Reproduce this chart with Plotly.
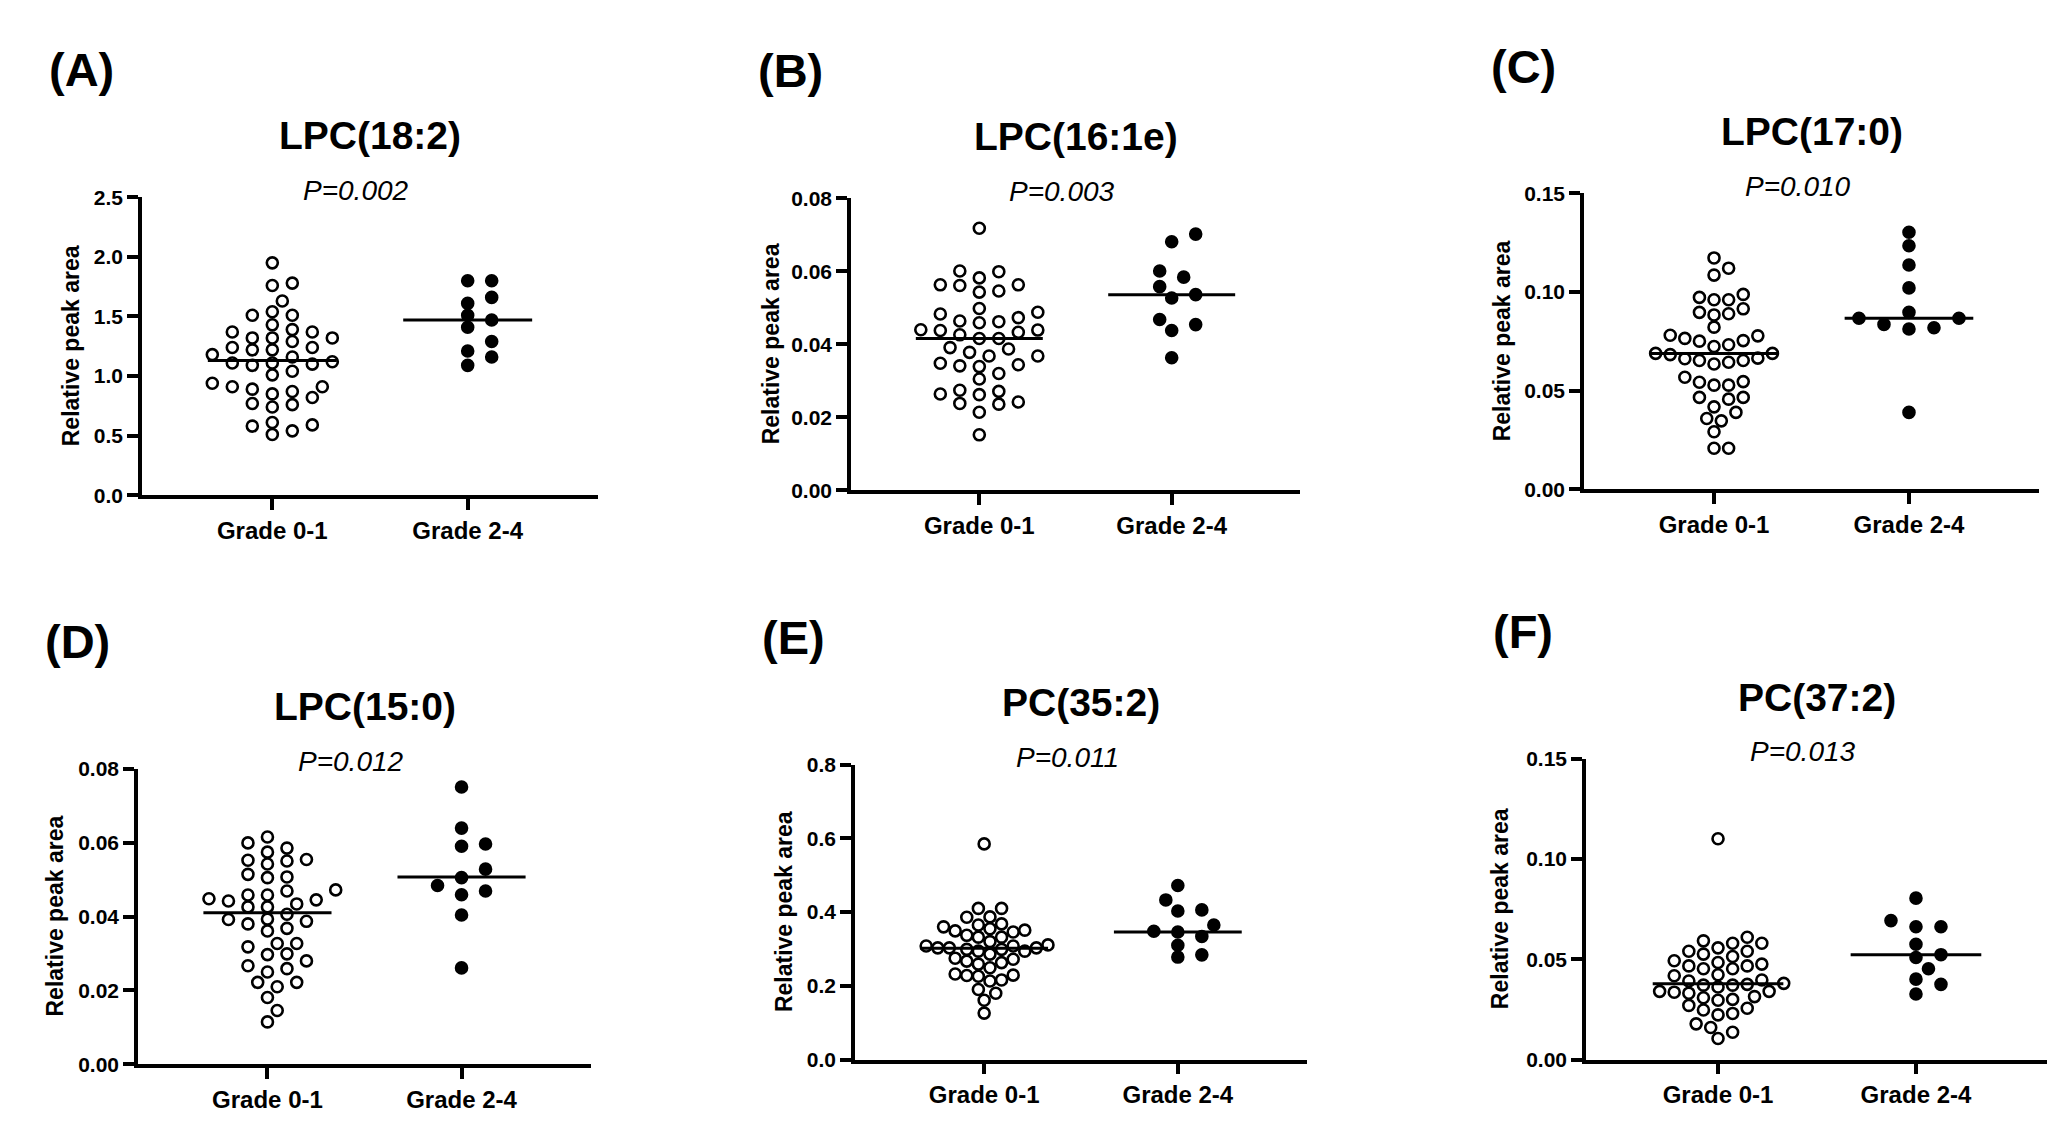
import numpy as np
import plotly.graph_objects as go

# ---- data ----
groups = ["Grade 0-1", "Grade 2-4"]
letters = ["(A)", "(B)", "(C)", "(D)", "(E)", "(F)"]
titles = ["LPC(18:2)", "LPC(16:1e)", "LPC(17:0)", "LPC(15:0)", "PC(35:2)", "PC(37:2)"]
p_values = ["P=0.002", "P=0.003", "P=0.010", "P=0.012", "P=0.011", "P=0.013"]

A_lo = [1.95, 1.78, 1.76, 1.54, 1.51, 1.51, 1.63, 1.43, 1.37, 1.32, 1.32, 1.39, 1.37, 1.32, 1.24,
        1.24, 1.22, 1.22, 1.29, 1.18, 1.11, 1.12, 1.09, 1.11, 1.16, 1.10, 1.01, 1.04, 0.94, 0.89,
        0.91, 0.87, 0.85, 0.91, 0.82, 0.77, 0.74, 0.76, 0.54, 0.61, 0.58, 0.59, 0.51]
A_hi = [1.80, 1.80, 1.61, 1.66, 1.47, 1.51, 1.41, 1.29, 1.21, 1.16, 1.09]
A_med = [1.13, 1.47]

B_lo = [0.0718, 0.0582, 0.0599, 0.0601, 0.0543, 0.0563, 0.0563, 0.0561, 0.0546, 0.0488, 0.0473,
        0.0483, 0.0498, 0.0464, 0.0462, 0.0459, 0.0433, 0.0440, 0.0438, 0.0426, 0.0439, 0.0416,
        0.0416, 0.0391, 0.0387, 0.0368, 0.0378, 0.0368, 0.0348, 0.0341, 0.0339, 0.0344, 0.0320,
        0.0305, 0.0271, 0.0262, 0.0264, 0.0274, 0.0238, 0.0242, 0.0236, 0.0214, 0.0152]
B_hi = [0.0702, 0.0681, 0.0601, 0.0584, 0.0558, 0.0536, 0.0527, 0.0468, 0.0454, 0.0438, 0.0363]
B_med = [0.0416, 0.0536]

C_lo = [0.1173, 0.1121, 0.1086, 0.0988, 0.0961, 0.0961, 0.0973, 0.0915, 0.0890, 0.0897, 0.0884,
        0.0822, 0.0765, 0.0781, 0.0751, 0.0778, 0.0754, 0.0733, 0.0724, 0.0689, 0.0689, 0.0683,
        0.0662, 0.0665, 0.0653, 0.0653, 0.0635, 0.0644, 0.0543, 0.0546, 0.0528, 0.0528, 0.0568,
        0.0466, 0.0457, 0.0466, 0.0418, 0.0390, 0.0359, 0.0347, 0.0292, 0.0208, 0.0208]
C_hi = [0.1303, 0.1235, 0.1137, 0.1021, 0.0897, 0.0867, 0.0867, 0.0819, 0.0836, 0.0813, 0.0390]
C_med = [0.0689, 0.0867]

D_lo = [0.0615, 0.0599, 0.0585, 0.0574, 0.0552, 0.0554, 0.0550, 0.0542, 0.0507, 0.0514, 0.0505,
        0.0472, 0.0469, 0.0458, 0.0458, 0.0448, 0.0434, 0.0442, 0.0445, 0.0426, 0.0426, 0.0406,
        0.0393, 0.0392, 0.0387, 0.0380, 0.0368, 0.0361, 0.0327, 0.0327, 0.0318, 0.0280, 0.0297,
        0.0299, 0.0267, 0.0250, 0.0259, 0.0210, 0.0222, 0.0222, 0.0181, 0.0146, 0.0115]
D_hi = [0.0750, 0.0639, 0.0590, 0.0596, 0.0528, 0.0505, 0.0484, 0.0469, 0.0459, 0.0404, 0.0261]
D_med = [0.0410, 0.0507]

E_lo = [0.585, 0.410, 0.410, 0.386, 0.387, 0.360, 0.365, 0.355, 0.368, 0.349, 0.351, 0.346, 0.332,
        0.337, 0.332, 0.320, 0.299, 0.303, 0.308, 0.308, 0.303, 0.294, 0.294, 0.311, 0.303, 0.299,
        0.286, 0.272, 0.275, 0.267, 0.259, 0.263, 0.249, 0.229, 0.228, 0.232, 0.226, 0.216, 0.213,
        0.190, 0.180, 0.161, 0.126]
E_hi = [0.472, 0.433, 0.403, 0.406, 0.365, 0.348, 0.346, 0.334, 0.310, 0.278, 0.284]
E_med = [0.302, 0.346]

F_lo = [0.1101, 0.0610, 0.0592, 0.0580, 0.0580, 0.0557, 0.0540, 0.0540, 0.0526, 0.0514, 0.0493,
        0.0484, 0.0467, 0.0467, 0.0476, 0.0453, 0.0453, 0.0423, 0.0418, 0.0397, 0.0371, 0.0380,
        0.0392, 0.0375, 0.0362, 0.0371, 0.0336, 0.0340, 0.0340, 0.0331, 0.0314, 0.0296, 0.0300,
        0.0308, 0.0270, 0.0256, 0.0247, 0.0230, 0.0223, 0.0178, 0.0160, 0.0136, 0.0105]
F_hi = [0.0805, 0.0693, 0.0662, 0.0662, 0.0575, 0.0509, 0.0523, 0.0453, 0.0401, 0.0375, 0.0327]
F_med = [0.0378, 0.0523]

y_tops = [2.5, 0.08, 0.15, 0.08, 0.8, 0.15]
y_steps = [0.5, 0.02, 0.05, 0.02, 0.2, 0.05]
y_formats = [".1f", ".2f", ".2f", ".2f", ".1f", ".2f"]

series = [(A_lo, A_hi, A_med), (B_lo, B_hi, B_med), (C_lo, C_hi, C_med),
          (D_lo, D_hi, D_med), (E_lo, E_hi, E_med), (F_lo, F_hi, F_med)]

# ---- layout (pixels in a 2055 x 1138 page) ----
W, H = 2055, 1138
# x-axis left/right, y-axis bottom/top, y-label x, row spacing of the dots (open, filled)
boxes = [
    (134, 590, 485, 181, 63, 20.0, 24.0),
    (843, 1292, 480, 182, 763, 19.5, 24.0),
    (1576, 2031, 479, 177, 1494, 14.6, 25.0),
    (130, 583, 1066, 764, 47, 19.5, 24.0),
    (847, 1299, 1061, 760, 776, 11.6, 24.0),
    (1578, 2040, 1061, 754, 1492, 14.6, 25.0),
]
XR = [-0.667, 1.667]
ROW_H = 12.0
FONT = "Liberation Sans, Arial, sans-serif"


def swarm(vals, px_per_unit, px_per_cat, w=20.0, h=ROW_H):
    # greedy beeswarm, lowest value first; dots closer than h vertically
    # need w of horizontal room, like the Prism scatter layout
    step = w / 2
    vals = np.asarray(vals, dtype=float)
    order = np.argsort(vals)
    placed = []
    offs = np.zeros(len(vals))
    cands = [0.0]
    for k in range(1, 60):
        cands += [k * step, -k * step]
    for i in order:
        y = vals[i] * px_per_unit
        for c in cands:
            if all(((c - px) / w) ** 2 + ((y - py) / h) ** 2 >= 1 for px, py in placed):
                break
        offs[i] = c
        placed.append((c, y))
    return offs / px_per_cat


fig = go.Figure()
annotations = []

for n, ((lo, hi, med), (xl, xr, yb, yt, ylab, w_o, w_f)) in enumerate(zip(series, boxes)):
    ax = "" if n == 0 else str(n + 1)
    px_cat = (xr - xl) / (XR[1] - XR[0])
    px_unit = (yb - yt) / y_tops[n]

    for g, (vals, fill, w) in enumerate([(lo, "white", w_o), (hi, "black", w_f)]):
        x = g + swarm(vals, px_unit, px_cat, w)
        fig.add_trace(go.Scatter(
            x=x, y=vals, mode="markers", xaxis="x" + ax, yaxis="y" + ax,
            marker=dict(size=11, color=fill, line=dict(color="black", width=2.6)),
            showlegend=False, hoverinfo="y"))
    for g in range(2):
        fig.add_trace(go.Scatter(
            x=[g - 0.33, g + 0.33], y=[med[g], med[g]], mode="lines",
            xaxis="x" + ax, yaxis="y" + ax, line=dict(color="black", width=3),
            showlegend=False, hoverinfo="skip"))

    common = dict(showline=True, linewidth=3.5, linecolor="black", ticks="outside",
                  ticklen=11, tickwidth=3.5, tickcolor="black", showgrid=False,
                  zeroline=False, fixedrange=True)
    fig.layout["xaxis" + ax] = dict(
        domain=[xl / W, xr / W], range=XR, anchor="y" + ax,
        tickvals=[0, 1], ticktext=groups,
        tickfont=dict(family=FONT, size=24, color="black", weight="bold"), **common)
    fig.layout["yaxis" + ax] = dict(
        domain=[1 - yb / H, 1 - yt / H], range=[0, y_tops[n]], anchor="x" + ax,
        tick0=0, dtick=y_steps[n], tickformat=y_formats[n],
        tickfont=dict(family=FONT, size=21, color="black", weight="bold"), **common)

    cx = (xl + xr) / 2
    annotations += [
        dict(text="<b>" + letters[n] + "</b>", x=(xl - 95) / W, y=1 - (yt - 130) / H,
             xanchor="left", yanchor="middle", font=dict(family=FONT, size=47, color="black")),
        dict(text="<b>" + titles[n] + "</b>", x=cx / W, y=1 - (yt - 63) / H,
             xanchor="center", yanchor="middle", font=dict(family=FONT, size=39, color="black")),
        dict(text="<i>" + p_values[n] + "</i>", x=(cx - 14) / W, y=1 - (yt - 7) / H,
             xanchor="center", yanchor="middle", font=dict(family=FONT, size=28, color="black")),
        dict(text="<b>Relative peak area</b>", x=ylab / W, y=1 - ((yb + yt) / 2) / H,
             textangle=-90, xanchor="center", yanchor="middle",
             font=dict(family=FONT, size=23, color="black")),
    ]

for a in annotations:
    a.update(xref="paper", yref="paper", showarrow=False)

fig.update_layout(width=W, height=H, margin=dict(l=0, r=0, t=0, b=0),
                  paper_bgcolor="white", plot_bgcolor="white",
                  annotations=annotations, showlegend=False)

fig.write_html("out.html")
